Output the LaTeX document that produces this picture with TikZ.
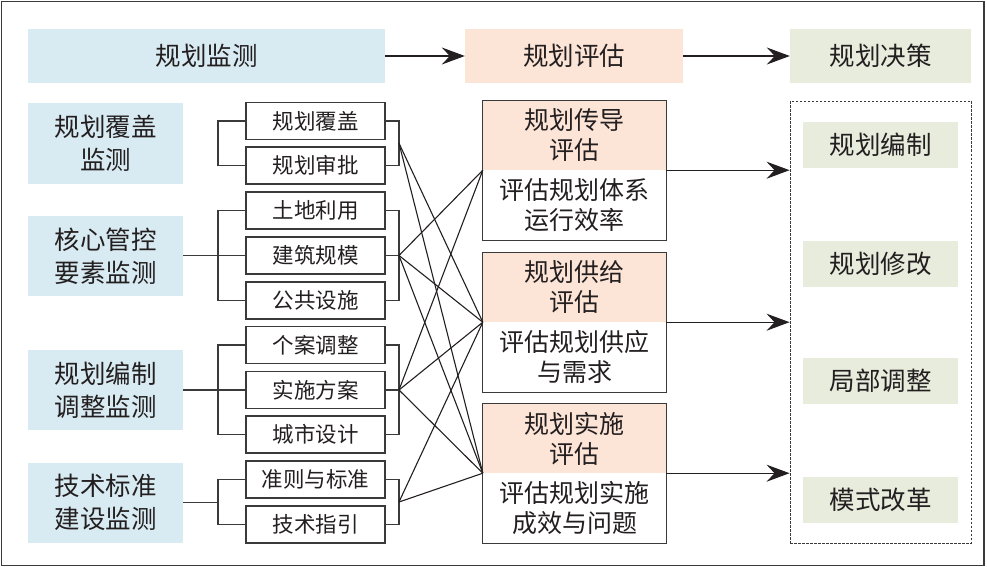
\documentclass[tikz,border=0pt]{standalone}
\usepackage{fontspec}
\newfontfamily\cjk{Noto Sans CJK SC}
\usetikzlibrary{arrows.meta}
\definecolor{txt}{HTML}{231F20}
\definecolor{bluef}{HTML}{D9EBF2}
\definecolor{peachf}{HTML}{FCE4D6}
\definecolor{greenf}{HTML}{E7ECDC}
\definecolor{edge}{HTML}{3A3A3A}
\begin{document}
\begin{tikzpicture}[x=1pt,y=-1pt,
  bigtxt/.style={font=\cjk\fontsize{25.5}{33}\selectfont, text=txt, align=center, inner sep=0pt},
  evtxt/.style={font=\cjk\fontsize{25}{30}\selectfont, text=txt, align=center, inner sep=0pt},
  topbox/.style={bigtxt, minimum height=54pt},
  leftbox/.style={bigtxt, fill=bluef, minimum width=155pt, minimum height=80pt},
  midbox/.style={font=\cjk\fontsize{21.5}{25}\selectfont, text=txt, inner sep=0pt, draw=edge, line width=1.3pt, minimum width=139pt, minimum height=37pt},
  evhead/.style={evtxt, fill=peachf, minimum width=183pt, minimum height=69pt},
  evbody/.style={evtxt, minimum width=183pt, minimum height=70pt},
  decbox/.style={bigtxt, fill=greenf, minimum width=155pt, minimum height=46pt},
  brk/.style={draw=edge, line width=1.3pt},
  conn/.style={draw=txt, line width=1.1pt},
  arr/.style={draw=txt, line width=1.1pt, -{Stealth[length=23pt,width=17pt,inset=8pt]}},
]
\useasboundingbox (0,0) rectangle (987,567);
\draw[edge, line width=1.5pt] (1.5,1.5) rectangle (984,565.5);

% top row
\node[topbox, fill=bluef, minimum width=357pt] (mon) at (206.5,56) {规划监测};
\node[topbox, fill=peachf, minimum width=218pt] (eva) at (574,56) {规划评估};
\node[topbox, fill=greenf, minimum width=181pt] (dec) at (880.5,56) {规划决策};
\draw[arr] (mon.east) -- (eva.west);
\draw[arr] (eva.east) -- (dec.west);

% left column
\node[leftbox] (l1) at (105.5,143.5) {规划覆盖\\监测};
\node[leftbox] (l2) at (105.5,256) {核心管控\\要素监测};
\node[leftbox] (l3) at (105.5,390) {规划编制\\调整监测};
\node[leftbox] (l4) at (105.5,502.5) {技术标准\\建设监测};

% middle boxes
\node[midbox] (m1) at (315.5,121) {规划覆盖};
\node[midbox] (m2) at (315.5,165.5) {规划审批};
\node[midbox] (m3) at (315.5,210.5) {土地利用};
\node[midbox] (m4) at (315.5,255.5) {建筑规模};
\node[midbox] (m5) at (315.5,300.5) {公共设施};
\node[midbox] (m6) at (315.5,345) {个案调整};
\node[midbox] (m7) at (315.5,390) {实施方案};
\node[midbox] (m8) at (315.5,434.5) {城市设计};
\node[midbox] (m9) at (315.5,479.5) {准则与标准};
\node[midbox] (m10) at (315.5,524.5) {技术指引};

% left brackets
\coordinate (bl) at (218,0);
\draw[brk] (m1.west) -- (m1.west -| bl) -- (m2.west -| bl) -- (m2.west);
\draw[brk] (m3.west) -- (m3.west -| bl) -- (m5.west -| bl) -- (m5.west);
\draw[brk] (l2.east |- m4.west) -- (m4.west);
\draw[brk] (m6.west) -- (m6.west -| bl) -- (m8.west -| bl) -- (m8.west);
\draw[brk] (l3.east |- m7.west) -- (m7.west);
\draw[brk] (m9.west) -- (m9.west -| bl) -- (m10.west -| bl) -- (m10.west);
\draw[brk] (l4.east) -- (l4.east -| bl);

% right brackets
\coordinate (br) at (399,0);
\coordinate (S1) at (399,143.25);
\coordinate (S2) at (399,255.5);
\coordinate (S3) at (399,390);
\coordinate (S4) at (399,502);
\draw[brk] (m1.east) -- (m1.east -| br) -- (m2.east -| br) -- (m2.east);
\draw[brk] (m3.east) -- (m3.east -| br) -- (m5.east -| br) -- (m5.east);
\draw[brk] (m4.east) -- (S2);
\draw[brk] (m6.east) -- (m6.east -| br) -- (m8.east -| br) -- (m8.east);
\draw[brk] (m7.east) -- (S3);
\draw[brk] (m9.east) -- (m9.east -| br) -- (m10.east -| br) -- (m10.east);

% evaluation boxes
\node[evhead] (e1h) at (574.5,135.5) {规划传导\\评估};
\node[evbody, anchor=north] (e1b) at (e1h.south) {评估规划体系\\运行效率};
\draw[edge, line width=1.3pt] (e1h.north west) rectangle (e1b.south east);

\node[evhead] (e2h) at (574.5,287.5) {规划供给\\评估};
\node[evbody, anchor=north] (e2b) at (e2h.south) {评估规划供应\\与需求};
\draw[edge, line width=1.3pt] (e2h.north west) rectangle (e2b.south east);

\node[evhead] (e3h) at (574.5,438.5) {规划实施\\评估};
\node[evbody, anchor=north] (e3b) at (e3h.south) {评估规划实施\\成效与问题};
\draw[edge, line width=1.3pt] (e3h.north west) rectangle (e3b.south east);

% crossing connectors
\draw[conn] (S1) -- (e2h.south west);
\draw[conn] (S1) -- (e3h.south west);
\draw[conn] (S2) -- (e1h.south west);
\draw[conn] (S2) -- (e2h.south west);
\draw[conn] (S2) -- (e3h.south west);
\draw[conn] (S3) -- (e1h.south west);
\draw[conn] (S3) -- (e2h.south west);
\draw[conn] (S3) -- (e3h.south west);
\draw[conn] (S4) -- (e2h.south west);
\draw[conn] (S4) -- (e3h.south west);

% decision area
\node[draw=edge, line width=0.9pt, dash pattern=on 2.5pt off 1.5pt, minimum width=181pt, minimum height=442pt, inner sep=0pt] (dbox) at (880.5,322) {};
\node[decbox] (d1) at (880.5,145) {规划编制};
\node[decbox] (d2) at (880.5,263.5) {规划修改};
\node[decbox] (d3) at (880.5,381) {局部调整};
\node[decbox] (d4) at (880.5,499.5) {模式改革};

\draw[arr] (e1h.south east) -- (e1h.south east -| dbox.west);
\draw[arr] (e2h.south east) -- (e2h.south east -| dbox.west);
\draw[arr] (e3h.south east) -- (e3h.south east -| dbox.west);
\end{tikzpicture}
\end{document}
